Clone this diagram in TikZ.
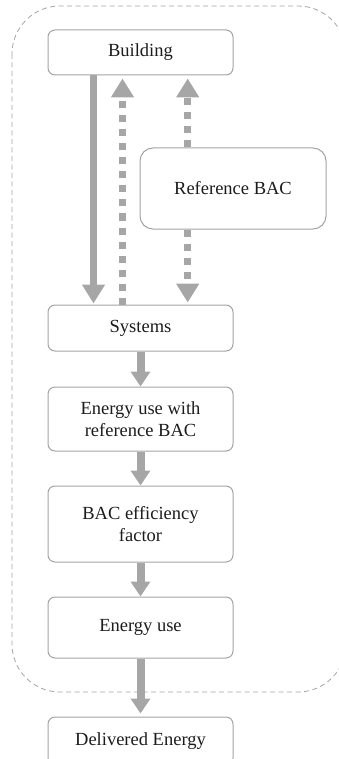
\documentclass[tikz,border=0pt]{standalone}
\usepackage{fontspec}
\setmainfont{Liberation Serif}
\usepackage{tikz}
\usetikzlibrary{arrows.meta}
\definecolor{boxGray}{HTML}{A3A3A3}
\definecolor{flowGray}{HTML}{A6A6A6}
\definecolor{textGray}{HTML}{1C1C1C}
\tikzstyle{fBlock} = [rectangle, rounded corners=7pt, minimum width=185pt, minimum height=45pt, align=center, draw=boxGray, line width=1pt, text=textGray, font=\fontsize{18.5}{22}\selectfont]
\tikzstyle{fRefBlock} = [fBlock, rounded corners=13pt, minimum width=186pt, minimum height=81pt]
\tikzstyle{fFlow} = [line width=7pt, draw=flowGray, -{Triangle[length=19pt, width=22pt]}]
\tikzstyle{fFeedback} = [fFlow, line width=6.5pt, dash pattern=on 7pt off 7pt]
\tikzstyle{fStep} = [line width=8pt, draw=flowGray, -{Triangle[length=15pt, width=19pt]}]
\tikzstyle{fBoundary} = [draw=boxGray, line width=0.8pt, dash pattern=on 5pt off 3.5pt, rounded corners=48pt]

\begin{document}
\begin{tikzpicture}[x=1pt, y=1pt, node distance=100pt]
    \useasboundingbox (0,0) rectangle (339,-759);
    \clip (0,0) rectangle (339,-759);
    \draw [fBoundary] (12,-6) rectangle (346,-692);

    \node (building) [fBlock] at (140.5,-52.5) {Building};
    \node (refbac) [fRefBlock, below of=building, xshift=92.5pt, yshift=-36pt] {Reference BAC};
    \node (systems) [fBlock, minimum height=46pt, below of=building, yshift=-175.5pt] {Systems};
    \node (energyref) [fBlock, minimum height=64pt, below of=systems, yshift=9pt] {Energy use with\\reference BAC};
    \node (baceff) [fBlock, minimum height=76pt, below of=energyref, yshift=-5pt] {BAC efficiency\\factor};
    \node (energyuse) [fBlock, minimum height=61pt, below of=baceff, yshift=-3.5pt] {Energy use};
    \node (delivered) [fBlock, minimum height=48pt, below of=energyuse, yshift=-13.5pt] {Delivered Energy};

    \draw [fFlow, shorten >=1pt] ([xshift=-47pt]building.south) -- ([xshift=-47pt]systems.north);
    \draw [fFeedback, shorten >=3pt] ([xshift=-18pt]systems.north) -- ([xshift=-18pt]building.south);
    \draw [fFeedback, shorten >=3pt] ([xshift=-45.3pt]refbac.north) -- ([xshift=47.2pt]building.south);
    \draw [fFeedback, shorten >=2pt] ([xshift=-45.3pt]refbac.south) -- ([xshift=47.2pt]systems.north);
    \draw [fStep] (systems) -- (energyref);
    \draw [fStep] (energyref) -- (baceff);
    \draw [fStep] (baceff) -- (energyuse);
    \draw [fStep, shorten >=3pt] (energyuse) -- (delivered);
\end{tikzpicture}
\end{document}
